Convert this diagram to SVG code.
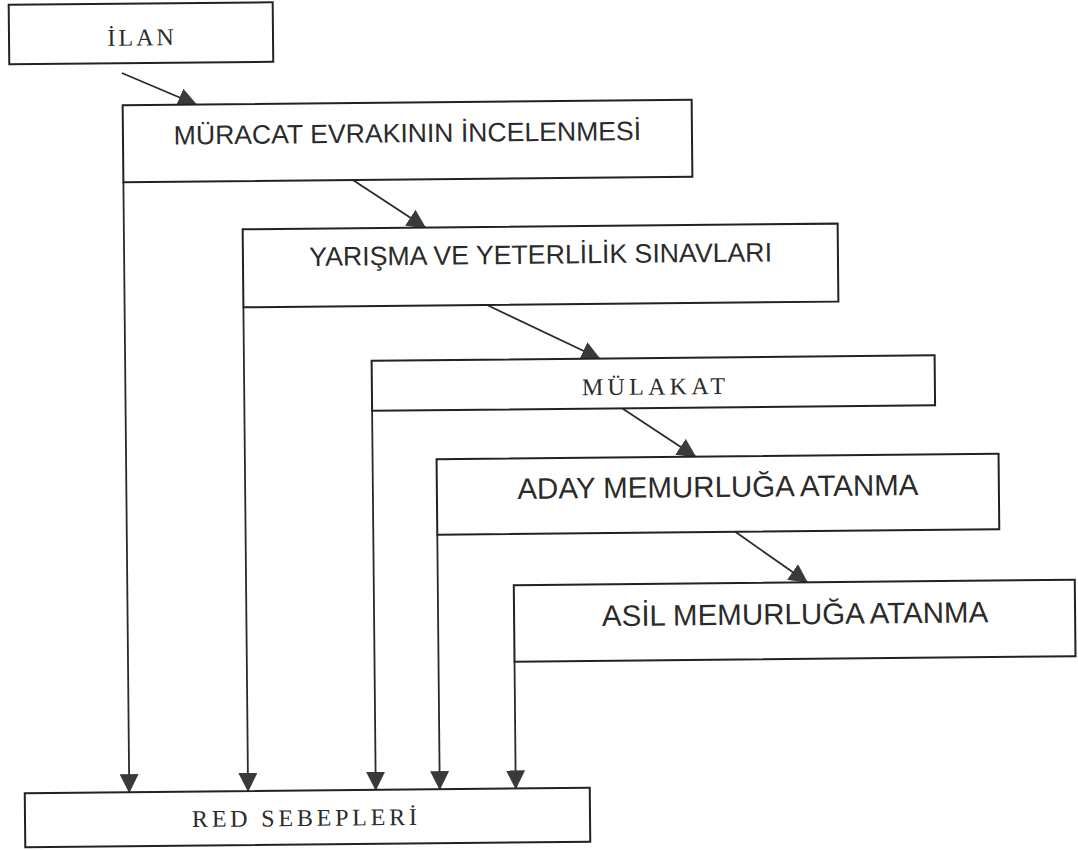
<svg xmlns="http://www.w3.org/2000/svg" width="1078" height="850" viewBox="0 0 1078 850">
<style>
  .box{fill:#fff;stroke:#222;stroke-width:2}
  .conn{stroke:#2a2a2a;stroke-width:1.8;fill:none}
  .arr{marker-end:url(#ah)}
  .sans{font-family:"Liberation Sans",Arial,sans-serif;fill:#2b2b2b}
  .serif{font-family:"Liberation Serif","Times New Roman",serif;fill:#2b2b2b}
</style>
<defs>
  <marker id="ah" markerUnits="userSpaceOnUse" markerWidth="19" markerHeight="19" viewBox="0 0 19 19" refX="18" refY="9.5" orient="auto">
    <path d="M0,0 L19,9.5 L0,19 z" fill="#3a3a3a"/>
  </marker>
</defs>
<rect width="1078" height="850" fill="#fff"/>
<g transform="rotate(-0.55 300 400)">
  <g id="connectors">
    <path class="conn arr" d="M125,71.3 L199,103.5"/>
    <path class="conn arr" d="M355,180.5 L427,228.8"/>
    <path class="conn arr" d="M488,306.8 L600,361.4"/>
    <path class="conn arr" d="M622,411.4 L695,460.5"/>
    <path class="conn arr" d="M734,536 L805.5,587.2"/>
    <path class="conn arr" d="M125.5,180.5 V790.5"/>
    <path class="conn arr" d="M244.3,306.8 V790.5"/>
    <path class="conn arr" d="M372,411.4 V790.5"/>
    <path class="conn arr" d="M436,536 V790.5"/>
    <path class="conn arr" d="M512,663.7 V790.5"/>
  </g>
  <g id="ilan">
    <rect class="box" x="12.5" y="2" width="264" height="59.5"/>
    <text class="serif" x="111" y="44" font-size="24" letter-spacing="3">İLAN</text>
  </g>
  <g id="muracat">
    <rect class="box" x="125.5" y="103.5" width="569" height="77"/>
    <text class="sans" x="410" y="143.3" font-size="26.6" text-anchor="middle">MÜRACAT EVRAKININ İNCELENMESİ</text>
  </g>
  <g id="yarisma">
    <rect class="box" x="244.3" y="228.8" width="595" height="78"/>
    <text class="sans" x="542" y="266" font-size="26.7" text-anchor="middle">YARIŞMA VE YETERLİLİK SINAVLARI</text>
  </g>
  <g id="mulakat">
    <rect class="box" x="372" y="361.4" width="563" height="50"/>
    <text class="serif" x="582" y="398" font-size="24" letter-spacing="4.3">MÜLAKAT</text>
  </g>
  <g id="aday">
    <rect class="box" x="436" y="460.5" width="562" height="75.5"/>
    <text class="sans" x="717" y="501" font-size="29.5" text-anchor="middle">ADAY MEMURLUĞA ATANMA</text>
  </g>
  <g id="asil">
    <rect class="box" x="512" y="587.2" width="561" height="76.5"/>
    <text class="sans" x="793" y="629" font-size="29.5" text-anchor="middle">ASİL MEMURLUĞA ATANMA</text>
  </g>
  <g id="red">
    <rect class="box" x="21" y="790.5" width="565" height="54"/>
    <text class="serif" x="188" y="826" font-size="24" letter-spacing="3.8">RED SEBEPLERİ</text>
  </g>
</g>
</svg>
